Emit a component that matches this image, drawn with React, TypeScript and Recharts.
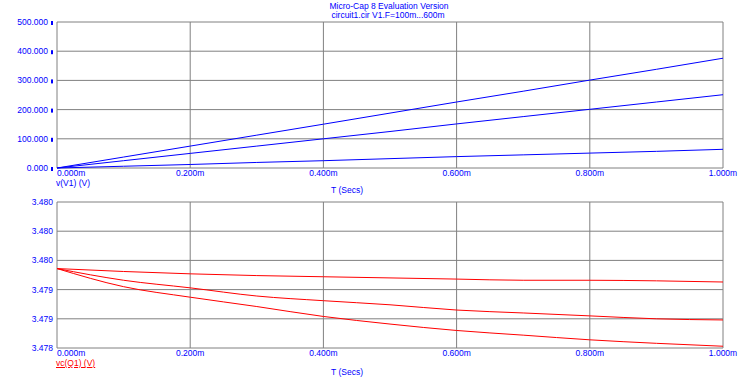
import React from "react";
import { LineChart, Line, XAxis, YAxis, CartesianGrid } from "recharts";

// time axis in ms
const time = [0, 0.1, 0.2, 0.3, 0.4, 0.5, 0.6, 0.7, 0.8, 0.9, 1.0];
const xTicks = [0, 0.2, 0.4, 0.6, 0.8, 1.0];
const xTickLabels = ["0.000m", "0.200m", "0.400m", "0.600m", "0.800m", "1.000m"];

// v(V1) for the three stepped runs
const vV1_a = [0, 37.5, 75, 112.5, 150, 188, 226, 263, 301, 338, 376];
const vV1_b = [0, 25, 50, 75, 100, 125, 151, 176, 201, 226, 251];
const vV1_c = [0, 6, 12, 19, 25, 32, 39, 45, 51, 57, 64];
const topTicks = [0, 100, 200, 300, 400, 500];
const topTickLabels = ["0.000", "100.000", "200.000", "300.000", "400.000", "500.000"];

// vc(Q1) for the three runs
const vcQ1_a = [3.47936, 3.47931, 3.47927, 3.47924, 3.47922, 3.4792, 3.47918, 3.47916, 3.47916, 3.47915, 3.47913];
const vcQ1_b = [3.47936, 3.47916, 3.47903, 3.47889, 3.47881, 3.47874, 3.47865, 3.4786, 3.47855, 3.4785, 3.47848];
const vcQ1_c = [3.47936, 3.47905, 3.47887, 3.47871, 3.47854, 3.47841, 3.4783, 3.47822, 3.47814, 3.47808, 3.47803];
const bottomTicks = [3.478, 3.4785, 3.479, 3.4795, 3.48, 3.4805];
const bottomTickLabels = ["3.478", "3.479", "3.479", "3.480", "3.480", "3.480"];

const topData = time.map((t, i) => ({ t, a: vV1_a[i], b: vV1_b[i], c: vV1_c[i] }));
const bottomData = time.map((t, i) => ({ t, a: vcQ1_a[i], b: vcQ1_b[i], c: vcQ1_c[i] }));

const FONT = "'Liberation Sans', Arial, sans-serif";
const BLUE = "#0000ff";
const RED = "#ff0000";
const GRID = "#808080";

const XTick = ({ x, y, payload, index }: any) => {
  const i = xTicks.indexOf(payload.value);
  return (
    <text
      x={x}
      y={y + 8}
      textAnchor={index === 0 ? "start" : "middle"}
      fill={BLUE}
      fontSize={8.5}
      fontFamily={FONT}
    >
      {xTickLabels[i]}
    </text>
  );
};

const TopYTick = ({ x, y, payload }: any) => {
  const i = topTicks.indexOf(payload.value);
  return (
    <g>
      <text x={x - 9} y={y + 3} textAnchor="end" fill={BLUE} fontSize={8.5} fontFamily={FONT}>
        {topTickLabels[i]}
      </text>
      <rect x={x - 6} y={y - 1} width={2} height={4} fill={BLUE} />
    </g>
  );
};

const BottomYTick = ({ x, y, payload }: any) => {
  const i = bottomTicks.indexOf(payload.value);
  return (
    <text x={x - 4} y={y + 3} textAnchor="end" fill={BLUE} fontSize={8.5} fontFamily={FONT}>
      {bottomTickLabels[i]}
    </text>
  );
};

const label = (style: React.CSSProperties) => ({
  position: "absolute" as const,
  fontFamily: FONT,
  fontSize: 8.5,
  whiteSpace: "nowrap" as const,
  lineHeight: "9px",
  ...style,
});

export default function App() {
  return (
    <div style={{ position: "absolute", left: 0, top: 0, width: 739, height: 382, background: "#fff" }}>
      <div style={label({ left: 0, width: 778, top: 2, textAlign: "center", color: BLUE })}>
        Micro-Cap 8 Evaluation Version
      </div>
      <div style={label({ left: 0, width: 776, top: 11, textAlign: "center", color: BLUE })}>
        circuit1.cir V1.F=100m...600m
      </div>

      <div style={{ position: "absolute", left: 0, top: 0 }}>
        <LineChart width={739} height={190} data={topData} margin={{ top: 22, right: 16, bottom: 0, left: 0 }}>
          <CartesianGrid stroke={GRID} strokeWidth={1} />
          <XAxis
            dataKey="t"
            type="number"
            domain={[0, 1]}
            ticks={xTicks}
            height={22}
            axisLine={false}
            tickLine={false}
            tickSize={0}
            tickMargin={0}
            tick={<XTick />}
            interval={0}
          />
          <YAxis
            type="number"
            domain={[0, 500]}
            ticks={topTicks}
            width={57}
            axisLine={false}
            tickLine={false}
            tickSize={0}
            tickMargin={0}
            tick={<TopYTick />}
            interval={0}
          />
          <Line type="linear" dataKey="a" stroke={BLUE} strokeWidth={1} dot={false} isAnimationActive={false} />
          <Line type="linear" dataKey="b" stroke={BLUE} strokeWidth={1} dot={false} isAnimationActive={false} />
          <Line type="linear" dataKey="c" stroke={BLUE} strokeWidth={1} dot={false} isAnimationActive={false} />
        </LineChart>
      </div>

      <div style={label({ left: 56, top: 179, color: BLUE })}>v(V1) (V)</div>
      <div style={label({ left: 331, top: 186, color: BLUE })}>T (Secs)</div>

      <div style={{ position: "absolute", left: 0, top: 190 }}>
        <LineChart width={739} height={192} data={bottomData} margin={{ top: 12, right: 16, bottom: 0, left: 0 }}>
          <CartesianGrid stroke={GRID} strokeWidth={1} />
          <XAxis
            dataKey="t"
            type="number"
            domain={[0, 1]}
            ticks={xTicks}
            height={34}
            axisLine={false}
            tickLine={false}
            tickSize={0}
            tickMargin={0}
            tick={<XTick />}
            interval={0}
          />
          <YAxis
            type="number"
            domain={[3.478, 3.4805]}
            ticks={bottomTicks}
            width={57}
            axisLine={false}
            tickLine={false}
            tickSize={0}
            tickMargin={0}
            tick={<BottomYTick />}
            interval={0}
          />
          <Line type="monotone" dataKey="a" stroke={RED} strokeWidth={1} dot={false} isAnimationActive={false} />
          <Line type="monotone" dataKey="b" stroke={RED} strokeWidth={1} dot={false} isAnimationActive={false} />
          <Line type="monotone" dataKey="c" stroke={RED} strokeWidth={1} dot={false} isAnimationActive={false} />
        </LineChart>
      </div>

      <div style={label({ left: 56, top: 359, color: RED, textDecoration: "underline" })}>vc(Q1) (V)</div>
      <div style={label({ left: 331, top: 368, color: BLUE })}>T (Secs)</div>
    </div>
  );
}
